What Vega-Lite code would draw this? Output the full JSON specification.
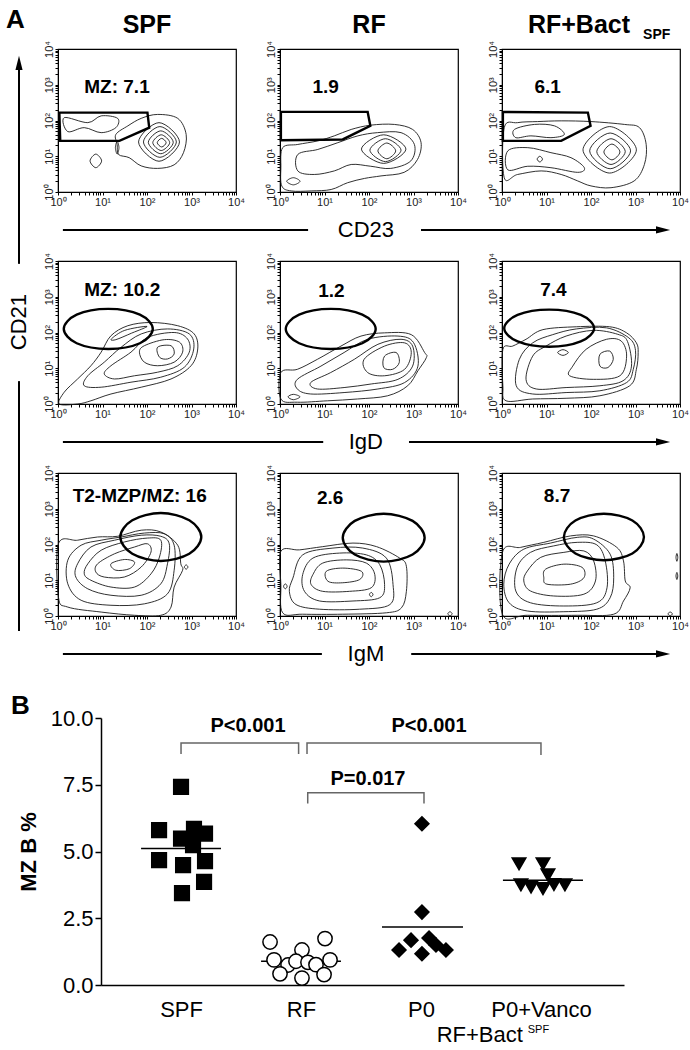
{
"$schema":"https://vega.github.io/schema/vega-lite/v6.json",
"background":"white",
"padding":{"left":5,"top":6,"right":0,"bottom":0},
"spacing":26,
"config":{
 "font":"Liberation Sans",
 "view":{"stroke":"#000","strokeWidth":1.2},
 "axis":{"grid":false,"domainColor":"#000","tickColor":"#000","labelColor":"#222","labelFont":"Liberation Sans","labelFontSize":11,"tickSize":3,"labelPadding":1,"domainWidth":1,"tickWidth":1},
 "headerFacet":{"labelExpr":"''","labelFontSize":0.1,"labelColor":"transparent","labelPadding":0},
 "text":{"font":"Liberation Sans","color":"#000"}
},
"datasets":{
"a":[
{"p":11,"g":1,"x":2.43,"y":1.38},{"p":11,"g":1,"x":2.33,"y":1.5},{"p":11,"g":1,"x":2.23,"y":1.38},{"p":11,"g":1,"x":2.33,"y":1.26},
{"p":11,"g":2,"x":2.51,"y":1.38},{"p":11,"g":2,"x":2.32,"y":1.6},{"p":11,"g":2,"x":2.13,"y":1.38},{"p":11,"g":2,"x":2.32,"y":1.16},
{"p":11,"g":3,"x":2.59,"y":1.39},{"p":11,"g":3,"x":2.31,"y":1.71},{"p":11,"g":3,"x":2.03,"y":1.39},{"p":11,"g":3,"x":2.31,"y":1.07},
{"p":11,"g":4,"x":2.66,"y":1.4},{"p":11,"g":4,"x":2.29,"y":1.83},{"p":11,"g":4,"x":1.92,"y":1.4},{"p":11,"g":4,"x":2.29,"y":0.97},
{"p":11,"g":5,"x":2.73,"y":1.4},{"p":11,"g":5,"x":2.27,"y":1.94},{"p":11,"g":5,"x":1.81,"y":1.4},{"p":11,"g":5,"x":2.27,"y":0.86},
{"p":11,"g":6,"x":1.3,"y":1.61},{"p":11,"g":6,"x":1.57,"y":1.85},{"p":11,"g":6,"x":1.87,"y":2.06},{"p":11,"g":6,"x":2.24,"y":2.17},{"p":11,"g":6,"x":2.69,"y":2.06},{"p":11,"g":6,"x":2.88,"y":1.61},{"p":11,"g":6,"x":2.82,"y":1.1},{"p":11,"g":6,"x":2.61,"y":0.76},{"p":11,"g":6,"x":2.24,"y":0.66},{"p":11,"g":6,"x":1.87,"y":0.73},{"p":11,"g":6,"x":1.6,"y":0.96},{"p":11,"g":6,"x":1.36,"y":1.05},{"p":11,"g":6,"x":1.33,"y":1.33},
{"p":11,"g":7,"x":0.14,"y":2.08},{"p":11,"g":7,"x":0.67,"y":1.94},{"p":11,"g":7,"x":0.97,"y":2.13},{"p":11,"g":7,"x":1.34,"y":2.06},{"p":11,"g":7,"x":1.3,"y":1.8},{"p":11,"g":7,"x":0.97,"y":1.66},{"p":11,"g":7,"x":0.59,"y":1.8},{"p":11,"g":7,"x":0.22,"y":1.69},
{"p":11,"g":8,"x":0.98,"y":0.87},{"p":11,"g":8,"x":0.85,"y":1.06},{"p":11,"g":8,"x":0.72,"y":0.87},{"p":11,"g":8,"x":0.85,"y":0.68},
{"p":11,"g":9,"x":1.37,"y":1.24},{"p":11,"g":9,"x":1.33,"y":1.42},{"p":11,"g":9,"x":1.29,"y":1.24},{"p":11,"g":9,"x":1.33,"y":1.06},
{"p":11,"g":90,"x":0.03,"y":2.22},{"p":11,"g":90,"x":2.01,"y":2.22},{"p":11,"g":90,"x":2.05,"y":1.8},{"p":11,"g":90,"x":1.38,"y":1.43},{"p":11,"g":90,"x":0.05,"y":1.43},
{"p":11,"g":92,"x":0.11,"y":-1.06},{"p":11,"g":92,"x":5.62,"y":-1.06},
{"p":11,"k":"m","t":"MZ: 7.1","x":0.59,"y":2.78},
{"p":11,"k":"T","t":"SPF","x":2,"y":4.45},
{"p":11,"k":"A","t":"A","x":-1.17,"y":4.59},

{"p":12,"g":1,"x":2.6,"y":1.15},{"p":12,"g":1,"x":2.4,"y":1.37},{"p":12,"g":1,"x":2.2,"y":1.15},{"p":12,"g":1,"x":2.4,"y":0.93},
{"p":12,"g":2,"x":2.72,"y":1.17},{"p":12,"g":2,"x":2.37,"y":1.49},{"p":12,"g":2,"x":2.02,"y":1.17},{"p":12,"g":2,"x":2.37,"y":0.85},
{"p":12,"g":3,"x":2.83,"y":1.2},{"p":12,"g":3,"x":2.33,"y":1.6},{"p":12,"g":3,"x":1.83,"y":1.2},{"p":12,"g":3,"x":2.33,"y":0.8},
{"p":12,"g":4,"x":0.4,"y":1.05},{"p":12,"g":4,"x":0.85,"y":1.19},{"p":12,"g":4,"x":1.3,"y":1.38},{"p":12,"g":4,"x":1.75,"y":1.57},{"p":12,"g":4,"x":2.19,"y":1.66},{"p":12,"g":4,"x":2.72,"y":1.66},{"p":12,"g":4,"x":3.02,"y":1.33},{"p":12,"g":4,"x":2.94,"y":0.87},{"p":12,"g":4,"x":2.49,"y":0.66},{"p":12,"g":4,"x":2.04,"y":0.72},{"p":12,"g":4,"x":1.6,"y":0.77},{"p":12,"g":4,"x":1.22,"y":0.59},{"p":12,"g":4,"x":0.77,"y":0.49},{"p":12,"g":4,"x":0.4,"y":0.59},
{"p":12,"g":5,"x":0.06,"y":1.24},{"p":12,"g":5,"x":0.4,"y":1.33},{"p":12,"g":5,"x":0.85,"y":1.43},{"p":12,"g":5,"x":1.22,"y":1.57},{"p":12,"g":5,"x":1.6,"y":1.75},{"p":12,"g":5,"x":2.04,"y":1.87},{"p":12,"g":5,"x":2.57,"y":1.89},{"p":12,"g":5,"x":2.98,"y":1.75},{"p":12,"g":5,"x":3.17,"y":1.38},{"p":12,"g":5,"x":3.09,"y":0.91},{"p":12,"g":5,"x":2.79,"y":0.55},{"p":12,"g":5,"x":2.27,"y":0.45},{"p":12,"g":5,"x":1.9,"y":0.38},{"p":12,"g":5,"x":1.52,"y":0.26},{"p":12,"g":5,"x":1.15,"y":0.07},{"p":12,"g":5,"x":0.7,"y":0.03},{"p":12,"g":5,"x":0.25,"y":0.03},{"p":12,"g":5,"x":0.04,"y":0.17},{"p":12,"g":5,"x":0.02,"y":0.68},
{"p":12,"g":6,"x":0.45,"y":0.3},{"p":12,"g":6,"x":0.3,"y":0.4},{"p":12,"g":6,"x":0.15,"y":0.3},{"p":12,"g":6,"x":0.3,"y":0.2},
{"p":12,"g":90,"x":0.02,"y":2.24},{"p":12,"g":90,"x":1.97,"y":2.24},{"p":12,"g":90,"x":2.03,"y":1.85},{"p":12,"g":90,"x":1.41,"y":1.47},{"p":12,"g":90,"x":0.02,"y":1.45},
{"p":12,"k":"m","t":"1.9","x":0.73,"y":2.78},
{"p":12,"k":"T","t":"RF","x":2,"y":4.45},
{"p":12,"k":"ax","t":"CD23","x":1.93,"y":-1.06},

{"p":13,"g":1,"x":2.65,"y":1.12},{"p":13,"g":1,"x":2.47,"y":1.34},{"p":13,"g":1,"x":2.29,"y":1.12},{"p":13,"g":1,"x":2.47,"y":0.9},
{"p":13,"g":2,"x":2.77,"y":1.13},{"p":13,"g":2,"x":2.45,"y":1.49},{"p":13,"g":2,"x":2.13,"y":1.13},{"p":13,"g":2,"x":2.45,"y":0.77},
{"p":13,"g":3,"x":2.89,"y":1.15},{"p":13,"g":3,"x":2.43,"y":1.65},{"p":13,"g":3,"x":1.97,"y":1.15},{"p":13,"g":3,"x":2.43,"y":0.65},
{"p":13,"g":4,"x":3.02,"y":1.18},{"p":13,"g":4,"x":2.42,"y":1.83},{"p":13,"g":4,"x":1.82,"y":1.18},{"p":13,"g":4,"x":2.42,"y":0.53},
{"p":13,"g":5,"x":0.05,"y":1.8},{"p":13,"g":5,"x":0.35,"y":1.94},{"p":13,"g":5,"x":0.8,"y":1.97},{"p":13,"g":5,"x":1.33,"y":1.99},{"p":13,"g":5,"x":2,"y":1.97},{"p":13,"g":5,"x":2.75,"y":1.89},{"p":13,"g":5,"x":3.09,"y":1.8},{"p":13,"g":5,"x":3.24,"y":1.33},{"p":13,"g":5,"x":3.2,"y":0.77},{"p":13,"g":5,"x":2.97,"y":0.31},{"p":13,"g":5,"x":2.45,"y":0.12},{"p":13,"g":5,"x":2,"y":0.17},{"p":13,"g":5,"x":1.7,"y":0.31},{"p":13,"g":5,"x":1.33,"y":0.49},{"p":13,"g":5,"x":0.88,"y":0.59},{"p":13,"g":5,"x":0.35,"y":0.49},{"p":13,"g":5,"x":0.05,"y":0.4},
{"p":13,"g":6,"x":0.28,"y":1.75},{"p":13,"g":6,"x":0.73,"y":1.89},{"p":13,"g":6,"x":1.18,"y":1.85},{"p":13,"g":6,"x":1.4,"y":1.61},{"p":13,"g":6,"x":1.1,"y":1.52},{"p":13,"g":6,"x":0.65,"y":1.57},{"p":13,"g":6,"x":0.31,"y":1.52},
{"p":13,"g":7,"x":0.13,"y":1.15},{"p":13,"g":7,"x":0.58,"y":1.24},{"p":13,"g":7,"x":1.1,"y":1.1},{"p":13,"g":7,"x":1.55,"y":0.96},{"p":13,"g":7,"x":1.85,"y":0.68},{"p":13,"g":7,"x":1.7,"y":0.55},{"p":13,"g":7,"x":1.1,"y":0.68},{"p":13,"g":7,"x":0.58,"y":0.72},{"p":13,"g":7,"x":0.13,"y":0.62},
{"p":13,"g":8,"x":0.91,"y":0.92},{"p":13,"g":8,"x":0.85,"y":1.0},{"p":13,"g":8,"x":0.79,"y":0.92},{"p":13,"g":8,"x":0.85,"y":0.84},
{"p":13,"g":90,"x":0.02,"y":2.24},{"p":13,"g":90,"x":1.93,"y":2.22},{"p":13,"g":90,"x":1.99,"y":1.85},{"p":13,"g":90,"x":1.33,"y":1.43},{"p":13,"g":90,"x":0.02,"y":1.43},
{"p":13,"g":93,"x":-1.82,"y":-1.06},{"p":13,"g":93,"x":3.62,"y":-1.06},
{"p":13,"k":"m","t":"6.1","x":0.73,"y":2.78},
{"p":13,"k":"T","t":"RF+Bact","x":1.73,"y":4.45},
{"p":13,"k":"s","t":"SPF","x":3.17,"y":4.28},
{"p":13,"k":"hr","x":3.62,"y":-1.06},

{"p":21,"g":1,"x":2.24,"y":1.59},{"p":21,"g":1,"x":2.54,"y":1.63},{"p":21,"g":1,"x":2.61,"y":1.4},{"p":21,"g":1,"x":2.46,"y":1.26},{"p":21,"g":1,"x":2.28,"y":1.31},
{"p":21,"g":2,"x":1.94,"y":1.63},{"p":21,"g":2,"x":2.39,"y":1.8},{"p":21,"g":2,"x":2.73,"y":1.73},{"p":21,"g":2,"x":2.8,"y":1.45},{"p":21,"g":2,"x":2.61,"y":1.17},{"p":21,"g":2,"x":2.24,"y":1.07},{"p":21,"g":2,"x":1.94,"y":1.17},{"p":21,"g":2,"x":1.83,"y":1.45},
{"p":21,"g":3,"x":1.64,"y":1.45},{"p":21,"g":3,"x":2.01,"y":1.86},{"p":21,"g":3,"x":2.61,"y":2.0},{"p":21,"g":3,"x":2.91,"y":1.82},{"p":21,"g":3,"x":2.95,"y":1.45},{"p":21,"g":3,"x":2.69,"y":1.07},{"p":21,"g":3,"x":2.24,"y":0.89},{"p":21,"g":3,"x":1.72,"y":0.79},{"p":21,"g":3,"x":1.27,"y":0.7},{"p":21,"g":3,"x":1.04,"y":0.84},{"p":21,"g":3,"x":1.19,"y":1.07},
{"p":21,"g":4,"x":1.42,"y":1.59},{"p":21,"g":4,"x":1.87,"y":1.96},{"p":21,"g":4,"x":2.46,"y":2.1},{"p":21,"g":4,"x":2.95,"y":1.96},{"p":21,"g":4,"x":3.05,"y":1.54},{"p":21,"g":4,"x":2.84,"y":1.03},{"p":21,"g":4,"x":2.31,"y":0.75},{"p":21,"g":4,"x":1.64,"y":0.61},{"p":21,"g":4,"x":0.97,"y":0.47},{"p":21,"g":4,"x":0.59,"y":0.51},{"p":21,"g":4,"x":0.67,"y":0.79},{"p":21,"g":4,"x":1.04,"y":1.17},
{"p":21,"g":5,"x":1.2,"y":1.82},{"p":21,"g":5,"x":1.5,"y":2.06},{"p":21,"g":5,"x":2.0,"y":2.17},{"p":21,"g":5,"x":1.65,"y":1.98},{"p":21,"g":5,"x":1.3,"y":1.8},
{"p":21,"g":6,"x":0.03,"y":0},{"p":21,"g":6,"x":0.14,"y":0.33},{"p":21,"g":6,"x":0.44,"y":0.7},{"p":21,"g":6,"x":0.74,"y":1.07},{"p":21,"g":6,"x":0.97,"y":1.45},{"p":21,"g":6,"x":1.19,"y":1.91},{"p":21,"g":6,"x":1.57,"y":2.19},{"p":21,"g":6,"x":2.09,"y":2.28},{"p":21,"g":6,"x":2.69,"y":2.19},{"p":21,"g":6,"x":3.06,"y":1.96},{"p":21,"g":6,"x":3.14,"y":1.54},{"p":21,"g":6,"x":2.99,"y":1.07},{"p":21,"g":6,"x":2.54,"y":0.7},{"p":21,"g":6,"x":1.87,"y":0.47},{"p":21,"g":6,"x":1.19,"y":0.28},{"p":21,"g":6,"x":0.74,"y":0.09},{"p":21,"g":6,"x":0.44,"y":0},
{"p":21,"g":91,"x":2.13,"y":2.1},{"p":21,"g":91,"x":1.84,"y":2.5},{"p":21,"g":91,"x":1.13,"y":2.66},{"p":21,"g":91,"x":0.42,"y":2.5},{"p":21,"g":91,"x":0.13,"y":2.1},{"p":21,"g":91,"x":0.42,"y":1.7},{"p":21,"g":91,"x":1.13,"y":1.54},{"p":21,"g":91,"x":1.84,"y":1.7},
{"p":21,"g":92,"x":0.11,"y":-1.06},{"p":21,"g":92,"x":5.96,"y":-1.06},
{"p":21,"g":94,"x":-0.876,"y":-6.35},{"p":21,"g":94,"x":-0.876,"y":0.64},
{"p":21,"g":95,"x":-0.876,"y":3.92},{"p":21,"g":95,"x":-0.876,"y":9.54},
{"p":21,"k":"m","t":"MZ: 10.2","x":0.59,"y":3.03},
{"p":21,"k":"av","t":"CD21","x":-0.876,"y":2.29},
{"p":21,"k":"hu","x":-0.876,"y":9.54},

{"p":22,"g":1,"x":2.35,"y":1.34},{"p":22,"g":1,"x":2.61,"y":1.44},{"p":22,"g":1,"x":2.68,"y":1.16},{"p":22,"g":1,"x":2.53,"y":0.97},{"p":22,"g":1,"x":2.33,"y":1.02},
{"p":22,"g":2,"x":1.89,"y":1.25},{"p":22,"g":2,"x":2.35,"y":1.62},{"p":22,"g":2,"x":2.8,"y":1.71},{"p":22,"g":2,"x":2.95,"y":1.44},{"p":22,"g":2,"x":2.8,"y":0.97},{"p":22,"g":2,"x":2.35,"y":0.79},{"p":22,"g":2,"x":1.97,"y":0.88},
{"p":22,"g":3,"x":0.69,"y":0.6},{"p":22,"g":3,"x":1.14,"y":0.88},{"p":22,"g":3,"x":1.67,"y":1.25},{"p":22,"g":3,"x":2.2,"y":1.67},{"p":22,"g":3,"x":2.72,"y":1.81},{"p":22,"g":3,"x":2.98,"y":1.62},{"p":22,"g":3,"x":2.98,"y":1.06},{"p":22,"g":3,"x":2.65,"y":0.69},{"p":22,"g":3,"x":2.05,"y":0.56},{"p":22,"g":3,"x":1.44,"y":0.46},{"p":22,"g":3,"x":0.84,"y":0.42},
{"p":22,"g":4,"x":0.39,"y":0.69},{"p":22,"g":4,"x":0.92,"y":1.06},{"p":22,"g":4,"x":1.44,"y":1.44},{"p":22,"g":4,"x":1.97,"y":1.81},{"p":22,"g":4,"x":2.65,"y":1.9},{"p":22,"g":4,"x":3.0,"y":1.72},{"p":22,"g":4,"x":3.1,"y":1.06},{"p":22,"g":4,"x":2.8,"y":0.6},{"p":22,"g":4,"x":2.2,"y":0.42},{"p":22,"g":4,"x":1.44,"y":0.32},{"p":22,"g":4,"x":0.69,"y":0.28},{"p":22,"g":4,"x":0.39,"y":0.42},
{"p":22,"g":5,"x":0.02,"y":0.88},{"p":22,"g":5,"x":0.39,"y":0.97},{"p":22,"g":5,"x":0.84,"y":1.25},{"p":22,"g":5,"x":1.37,"y":1.62},{"p":22,"g":5,"x":1.82,"y":1.9},{"p":22,"g":5,"x":2.35,"y":1.99},{"p":22,"g":5,"x":2.95,"y":1.94},{"p":22,"g":5,"x":3.25,"y":1.44},{"p":22,"g":5,"x":3.29,"y":1.3},{"p":22,"g":5,"x":3.1,"y":0.93},{"p":22,"g":5,"x":2.87,"y":0.51},{"p":22,"g":5,"x":2.42,"y":0.23},{"p":22,"g":5,"x":1.74,"y":0.14},{"p":22,"g":5,"x":1.07,"y":0.09},{"p":22,"g":5,"x":0.39,"y":0.05},{"p":22,"g":5,"x":0.02,"y":0.14},
{"p":22,"g":6,"x":0.45,"y":0.2},{"p":22,"g":6,"x":0.3,"y":0.27},{"p":22,"g":6,"x":0.18,"y":0.2},{"p":22,"g":6,"x":0.3,"y":0.12},
{"p":22,"g":91,"x":2.15,"y":2.1},{"p":22,"g":91,"x":1.85,"y":2.5},{"p":22,"g":91,"x":1.14,"y":2.66},{"p":22,"g":91,"x":0.43,"y":2.5},{"p":22,"g":91,"x":0.13,"y":2.1},{"p":22,"g":91,"x":0.43,"y":1.7},{"p":22,"g":91,"x":1.14,"y":1.54},{"p":22,"g":91,"x":1.85,"y":1.7},
{"p":22,"k":"m","t":"1.2","x":0.86,"y":2.99},
{"p":22,"k":"ax","t":"IgD","x":1.93,"y":-1.06},

{"p":23,"g":1,"x":2.2,"y":1.39},{"p":23,"g":1,"x":2.42,"y":1.48},{"p":23,"g":1,"x":2.5,"y":1.25},{"p":23,"g":1,"x":2.38,"y":1.02},{"p":23,"g":1,"x":2.2,"y":1.06},
{"p":23,"g":2,"x":1.59,"y":1.06},{"p":23,"g":2,"x":1.89,"y":1.53},{"p":23,"g":2,"x":2.35,"y":1.81},{"p":23,"g":2,"x":2.68,"y":1.76},{"p":23,"g":2,"x":2.8,"y":1.34},{"p":23,"g":2,"x":2.65,"y":0.79},{"p":23,"g":2,"x":2.05,"y":0.69},{"p":23,"g":2,"x":1.52,"y":0.79},
{"p":23,"g":3,"x":0.69,"y":1.34},{"p":23,"g":3,"x":0.99,"y":1.62},{"p":23,"g":3,"x":1.44,"y":1.9},{"p":23,"g":3,"x":2.05,"y":2.06},{"p":23,"g":3,"x":2.6,"y":1.95},{"p":23,"g":3,"x":2.82,"y":1.75},{"p":23,"g":3,"x":2.91,"y":1.06},{"p":23,"g":3,"x":2.72,"y":0.65},{"p":23,"g":3,"x":2.2,"y":0.51},{"p":23,"g":3,"x":1.44,"y":0.46},{"p":23,"g":3,"x":0.77,"y":0.42},{"p":23,"g":3,"x":0.54,"y":0.69},
{"p":23,"g":4,"x":0.39,"y":1.25},{"p":23,"g":4,"x":0.69,"y":1.71},{"p":23,"g":4,"x":1.14,"y":1.94},{"p":23,"g":4,"x":1.67,"y":2.1},{"p":23,"g":4,"x":2.35,"y":2.13},{"p":23,"g":4,"x":2.85,"y":1.85},{"p":23,"g":4,"x":3.0,"y":1.5},{"p":23,"g":4,"x":2.95,"y":0.97},{"p":23,"g":4,"x":2.8,"y":0.6},{"p":23,"g":4,"x":2.2,"y":0.37},{"p":23,"g":4,"x":1.44,"y":0.32},{"p":23,"g":4,"x":0.69,"y":0.28},{"p":23,"g":4,"x":0.32,"y":0.51},
{"p":23,"g":5,"x":0.02,"y":1.53},{"p":23,"g":5,"x":0.24,"y":1.62},{"p":23,"g":5,"x":0.54,"y":1.81},{"p":23,"g":5,"x":0.92,"y":2.08},{"p":23,"g":5,"x":1.67,"y":2.16},{"p":23,"g":5,"x":2.42,"y":2.16},{"p":23,"g":5,"x":2.8,"y":1.99},{"p":23,"g":5,"x":3.02,"y":1.71},{"p":23,"g":5,"x":3.06,"y":1.44},{"p":23,"g":5,"x":3.02,"y":0.97},{"p":23,"g":5,"x":2.87,"y":0.51},{"p":23,"g":5,"x":2.2,"y":0.23},{"p":23,"g":5,"x":1.44,"y":0.16},{"p":23,"g":5,"x":0.69,"y":0.14},{"p":23,"g":5,"x":0.09,"y":0.09},{"p":23,"g":5,"x":0.02,"y":0.51},
{"p":23,"g":6,"x":1.49,"y":1.44},{"p":23,"g":6,"x":1.37,"y":1.52},{"p":23,"g":6,"x":1.25,"y":1.44},{"p":23,"g":6,"x":1.37,"y":1.36},
{"p":23,"g":91,"x":2.07,"y":2.12},{"p":23,"g":91,"x":1.77,"y":2.49},{"p":23,"g":91,"x":1.06,"y":2.64},{"p":23,"g":91,"x":0.35,"y":2.49},{"p":23,"g":91,"x":0.05,"y":2.12},{"p":23,"g":91,"x":0.35,"y":1.75},{"p":23,"g":91,"x":1.06,"y":1.6},{"p":23,"g":91,"x":1.77,"y":1.75},
{"p":23,"g":93,"x":-2.09,"y":-1.06},{"p":23,"g":93,"x":3.62,"y":-1.06},
{"p":23,"k":"m","t":"7.4","x":0.86,"y":3.03},
{"p":23,"k":"hr","x":3.62,"y":-1.06},

{"p":31,"g":1,"x":1.19,"y":1.46},{"p":31,"g":1,"x":1.49,"y":1.58},{"p":31,"g":1,"x":1.72,"y":1.51},{"p":31,"g":1,"x":1.6,"y":1.32},{"p":31,"g":1,"x":1.3,"y":1.28},
{"p":31,"g":2,"x":0.89,"y":1.46},{"p":31,"g":2,"x":1.27,"y":1.74},{"p":31,"g":2,"x":1.72,"y":1.93},{"p":31,"g":2,"x":2.01,"y":2.02},{"p":31,"g":2,"x":2.09,"y":1.79},{"p":31,"g":2,"x":1.87,"y":1.37},{"p":31,"g":2,"x":1.49,"y":1.09},{"p":31,"g":2,"x":1.04,"y":1.09},{"p":31,"g":2,"x":0.85,"y":1.23},
{"p":31,"g":3,"x":0.67,"y":1.46},{"p":31,"g":3,"x":0.97,"y":1.84},{"p":31,"g":3,"x":1.49,"y":2.07},{"p":31,"g":3,"x":2.01,"y":2.18},{"p":31,"g":3,"x":2.31,"y":2.12},{"p":31,"g":3,"x":2.28,"y":1.65},{"p":31,"g":3,"x":2.09,"y":1.18},{"p":31,"g":3,"x":1.72,"y":0.81},{"p":31,"g":3,"x":1.19,"y":0.81},{"p":31,"g":3,"x":0.74,"y":1.0},{"p":31,"g":3,"x":0.59,"y":1.18},
{"p":31,"g":4,"x":0.44,"y":1.46},{"p":31,"g":4,"x":0.74,"y":1.93},{"p":31,"g":4,"x":1.27,"y":2.12},{"p":31,"g":4,"x":1.87,"y":2.26},{"p":31,"g":4,"x":2.31,"y":2.23},{"p":31,"g":4,"x":2.5,"y":2.02},{"p":31,"g":4,"x":2.46,"y":1.46},{"p":31,"g":4,"x":2.31,"y":0.9},{"p":31,"g":4,"x":1.87,"y":0.58},{"p":31,"g":4,"x":1.19,"y":0.58},{"p":31,"g":4,"x":0.67,"y":0.76},{"p":31,"g":4,"x":0.4,"y":1.09},
{"p":31,"g":5,"x":0.22,"y":1.56},{"p":31,"g":5,"x":0.52,"y":1.98},{"p":31,"g":5,"x":0.97,"y":2.12},{"p":31,"g":5,"x":1.42,"y":2.21},{"p":31,"g":5,"x":1.94,"y":2.32},{"p":31,"g":5,"x":2.39,"y":2.3},{"p":31,"g":5,"x":2.61,"y":1.98},{"p":31,"g":5,"x":2.61,"y":1.28},{"p":31,"g":5,"x":2.46,"y":0.62},{"p":31,"g":5,"x":1.94,"y":0.34},{"p":31,"g":5,"x":1.19,"y":0.3},{"p":31,"g":5,"x":0.52,"y":0.44},{"p":31,"g":5,"x":0.22,"y":0.9},
{"p":31,"g":6,"x":0.01,"y":2.02},{"p":31,"g":6,"x":0.44,"y":2.12},{"p":31,"g":6,"x":0.89,"y":2.21},{"p":31,"g":6,"x":1.34,"y":2.23},{"p":31,"g":6,"x":1.87,"y":2.4},{"p":31,"g":6,"x":2.31,"y":2.35},{"p":31,"g":6,"x":2.69,"y":1.98},{"p":31,"g":6,"x":2.76,"y":1.46},{"p":31,"g":6,"x":2.8,"y":1.28},{"p":31,"g":6,"x":2.61,"y":0.81},{"p":31,"g":6,"x":2.54,"y":0.25},{"p":31,"g":6,"x":2.31,"y":0.02},{"p":31,"g":6,"x":1.72,"y":0.02},{"p":31,"g":6,"x":0.97,"y":0.11},{"p":31,"g":6,"x":0.22,"y":0.25},{"p":31,"g":6,"x":0.01,"y":0.53},
{"p":31,"g":8,"x":2.92,"y":1.37},{"p":31,"g":8,"x":2.88,"y":1.43},{"p":31,"g":8,"x":2.84,"y":1.37},{"p":31,"g":8,"x":2.88,"y":1.31},
{"p":31,"g":91,"x":3.22,"y":2.21},{"p":31,"g":91,"x":2.95,"y":2.68},{"p":31,"g":91,"x":2.31,"y":2.88},{"p":31,"g":91,"x":1.67,"y":2.68},{"p":31,"g":91,"x":1.4,"y":2.21},{"p":31,"g":91,"x":1.67,"y":1.74},{"p":31,"g":91,"x":2.31,"y":1.54},{"p":31,"g":91,"x":2.95,"y":1.74},
{"p":31,"g":92,"x":0.11,"y":-1.06},{"p":31,"g":92,"x":5.93,"y":-1.06},
{"p":31,"k":"m","t":"T2-MZP/MZ: 16","x":0.33,"y":3.19},

{"p":32,"g":1,"x":1.04,"y":1.25},{"p":32,"g":1,"x":1.41,"y":1.34},{"p":32,"g":1,"x":1.83,"y":1.25},{"p":32,"g":1,"x":1.79,"y":1.02},{"p":32,"g":1,"x":1.41,"y":0.93},{"p":32,"g":1,"x":1.08,"y":0.97},
{"p":32,"g":2,"x":0.74,"y":1.16},{"p":32,"g":2,"x":0.96,"y":1.48},{"p":32,"g":2,"x":1.49,"y":1.57},{"p":32,"g":2,"x":1.94,"y":1.48},{"p":32,"g":2,"x":2.13,"y":1.16},{"p":32,"g":2,"x":2.05,"y":0.79},{"p":32,"g":2,"x":1.56,"y":0.69},{"p":32,"g":2,"x":0.96,"y":0.69},{"p":32,"g":2,"x":0.7,"y":0.88},
{"p":32,"g":3,"x":0.51,"y":1.16},{"p":32,"g":3,"x":0.74,"y":1.62},{"p":32,"g":3,"x":1.34,"y":1.76},{"p":32,"g":3,"x":1.94,"y":1.71},{"p":32,"g":3,"x":2.24,"y":1.44},{"p":32,"g":3,"x":2.35,"y":0.88},{"p":32,"g":3,"x":2.24,"y":0.51},{"p":32,"g":3,"x":1.64,"y":0.42},{"p":32,"g":3,"x":0.89,"y":0.42},{"p":32,"g":3,"x":0.55,"y":0.69},
{"p":32,"g":4,"x":0.29,"y":1.06},{"p":32,"g":4,"x":0.51,"y":1.71},{"p":32,"g":4,"x":1.19,"y":1.9},{"p":32,"g":4,"x":1.86,"y":1.9},{"p":32,"g":4,"x":2.39,"y":1.62},{"p":32,"g":4,"x":2.54,"y":0.88},{"p":32,"g":4,"x":2.47,"y":0.32},{"p":32,"g":4,"x":1.79,"y":0.19},{"p":32,"g":4,"x":0.89,"y":0.19},{"p":32,"g":4,"x":0.36,"y":0.32},{"p":32,"g":4,"x":0.21,"y":0.69},
{"p":32,"g":5,"x":0.02,"y":1.81},{"p":32,"g":5,"x":0.44,"y":1.85},{"p":32,"g":5,"x":0.96,"y":1.94},{"p":32,"g":5,"x":1.64,"y":2.04},{"p":32,"g":5,"x":2.17,"y":1.94},{"p":32,"g":5,"x":2.69,"y":1.62},{"p":32,"g":5,"x":2.84,"y":1.39},{"p":32,"g":5,"x":2.84,"y":0.69},{"p":32,"g":5,"x":2.73,"y":0.23},{"p":32,"g":5,"x":2.39,"y":0.09},{"p":32,"g":5,"x":1.41,"y":0.05},{"p":32,"g":5,"x":0.51,"y":0.05},{"p":32,"g":5,"x":0.06,"y":0.09},{"p":32,"g":5,"x":0.02,"y":0.88},
{"p":32,"g":6,"x":0.16,"y":0.83},{"p":32,"g":6,"x":0.12,"y":0.9},{"p":32,"g":6,"x":0.08,"y":0.83},{"p":32,"g":6,"x":0.12,"y":0.76},
{"p":32,"g":7,"x":2.09,"y":0.6},{"p":32,"g":7,"x":2.05,"y":0.66},{"p":32,"g":7,"x":2.01,"y":0.6},{"p":32,"g":7,"x":2.05,"y":0.54},
{"p":32,"g":8,"x":3.87,"y":0.06},{"p":32,"g":8,"x":3.82,"y":0.12},{"p":32,"g":8,"x":3.77,"y":0.06},{"p":32,"g":8,"x":3.82,"y":0.01},
{"p":32,"g":91,"x":3.25,"y":2.19},{"p":32,"g":91,"x":2.98,"y":2.66},{"p":32,"g":91,"x":2.33,"y":2.86},{"p":32,"g":91,"x":1.68,"y":2.66},{"p":32,"g":91,"x":1.41,"y":2.19},{"p":32,"g":91,"x":1.68,"y":1.72},{"p":32,"g":91,"x":2.33,"y":1.52},{"p":32,"g":91,"x":2.98,"y":1.72},
{"p":32,"k":"m","t":"2.6","x":0.83,"y":3.12},
{"p":32,"k":"ax","t":"IgM","x":1.93,"y":-1.06},

{"p":33,"g":1,"x":0.98,"y":1.31},{"p":33,"g":1,"x":1.39,"y":1.45},{"p":33,"g":1,"x":1.8,"y":1.36},{"p":33,"g":1,"x":1.84,"y":1.07},{"p":33,"g":1,"x":1.54,"y":0.89},{"p":33,"g":1,"x":1.01,"y":0.89},{"p":33,"g":1,"x":0.94,"y":1.07},
{"p":33,"g":2,"x":0.57,"y":1.26},{"p":33,"g":2,"x":0.87,"y":1.64},{"p":33,"g":2,"x":1.39,"y":1.78},{"p":33,"g":2,"x":1.84,"y":1.82},{"p":33,"g":2,"x":2.06,"y":1.54},{"p":33,"g":2,"x":2.1,"y":0.98},{"p":33,"g":2,"x":1.84,"y":0.61},{"p":33,"g":2,"x":1.16,"y":0.56},{"p":33,"g":2,"x":0.64,"y":0.7},{"p":33,"g":2,"x":0.49,"y":0.98},
{"p":33,"g":3,"x":0.34,"y":1.36},{"p":33,"g":3,"x":0.64,"y":1.78},{"p":33,"g":3,"x":1.16,"y":1.96},{"p":33,"g":3,"x":1.69,"y":2.06},{"p":33,"g":3,"x":2.13,"y":1.99},{"p":33,"g":3,"x":2.32,"y":1.54},{"p":33,"g":3,"x":2.36,"y":0.79},{"p":33,"g":3,"x":2.13,"y":0.37},{"p":33,"g":3,"x":1.39,"y":0.28},{"p":33,"g":3,"x":0.64,"y":0.37},{"p":33,"g":3,"x":0.31,"y":0.7},
{"p":33,"g":4,"x":0.16,"y":1.45},{"p":33,"g":4,"x":0.49,"y":1.87},{"p":33,"g":4,"x":1.09,"y":2.04},{"p":33,"g":4,"x":1.69,"y":2.2},{"p":33,"g":4,"x":2.06,"y":2.15},{"p":33,"g":4,"x":2.43,"y":1.73},{"p":33,"g":4,"x":2.51,"y":1.07},{"p":33,"g":4,"x":2.43,"y":0.51},{"p":33,"g":4,"x":2.13,"y":0.19},{"p":33,"g":4,"x":1.39,"y":0.12},{"p":33,"g":4,"x":0.57,"y":0.14},{"p":33,"g":4,"x":0.16,"y":0.37},{"p":33,"g":4,"x":0.04,"y":0.89},
{"p":33,"g":5,"x":0.01,"y":1.78},{"p":33,"g":5,"x":0.42,"y":1.92},{"p":33,"g":5,"x":0.94,"y":2.06},{"p":33,"g":5,"x":1.54,"y":2.24},{"p":33,"g":5,"x":2.06,"y":2.24},{"p":33,"g":5,"x":2.58,"y":1.92},{"p":33,"g":5,"x":2.73,"y":1.54},{"p":33,"g":5,"x":2.77,"y":0.98},{"p":33,"g":5,"x":2.88,"y":0.79},{"p":33,"g":5,"x":2.73,"y":0.42},{"p":33,"g":5,"x":2.51,"y":0.05},{"p":33,"g":5,"x":1.69,"y":0.02},{"p":33,"g":5,"x":0.57,"y":0.02},{"p":33,"g":5,"x":0.01,"y":0.05},
{"p":33,"g":6,"x":3.95,"y":1.64},{"p":33,"g":6,"x":3.93,"y":1.75},{"p":33,"g":6,"x":3.91,"y":1.64},{"p":33,"g":6,"x":3.93,"y":1.53},
{"p":33,"g":7,"x":3.95,"y":1.12},{"p":33,"g":7,"x":3.93,"y":1.22},{"p":33,"g":7,"x":3.91,"y":1.12},{"p":33,"g":7,"x":3.93,"y":1.02},
{"p":33,"g":8,"x":3.83,"y":0.06},{"p":33,"g":8,"x":3.78,"y":0.11},{"p":33,"g":8,"x":3.73,"y":0.06},{"p":33,"g":8,"x":3.78,"y":0.01},
{"p":33,"g":91,"x":3.19,"y":2.21},{"p":33,"g":91,"x":2.93,"y":2.67},{"p":33,"g":91,"x":2.29,"y":2.86},{"p":33,"g":91,"x":1.65,"y":2.67},{"p":33,"g":91,"x":1.39,"y":2.21},{"p":33,"g":91,"x":1.65,"y":1.75},{"p":33,"g":91,"x":2.29,"y":1.56},{"p":33,"g":91,"x":2.93,"y":1.75},
{"p":33,"g":93,"x":-2.04,"y":-1.06},{"p":33,"g":93,"x":3.62,"y":-1.06},
{"p":33,"k":"m","t":"8.7","x":0.94,"y":3.18},
{"p":33,"k":"hr","x":3.62,"y":-1.06}
],
"b":[
{"k":"br","g":1,"x":1.0,"y":8.65},{"k":"br","g":1,"x":1.0,"y":9.06},{"k":"br","g":1,"x":1.98,"y":9.06},{"k":"br","g":1,"x":1.98,"y":8.65},
{"k":"br","g":2,"x":2.05,"y":8.65},{"k":"br","g":2,"x":2.05,"y":9.06},{"k":"br","g":2,"x":4.0,"y":9.06},{"k":"br","g":2,"x":4.0,"y":8.61},
{"k":"br","g":3,"x":2.056,"y":6.8},{"k":"br","g":3,"x":2.056,"y":7.2},{"k":"br","g":3,"x":3.025,"y":7.2},{"k":"br","g":3,"x":3.025,"y":6.8},
{"k":"mn","x":0.667,"x2":1.333,"y":5.11},
{"k":"mn","x":1.667,"x2":2.333,"y":0.89},
{"k":"mn","x":2.675,"x2":3.35,"y":2.17},
{"k":"mn","x":3.683,"x2":4.35,"y":3.92},
{"k":"pt","grp":"SPF","x":1.0,"y":7.42},{"k":"pt","grp":"SPF","x":0.817,"y":5.8},{"k":"pt","grp":"SPF","x":1.108,"y":5.85},{"k":"pt","grp":"SPF","x":1.2,"y":5.67},{"k":"pt","grp":"SPF","x":1.0,"y":5.48},{"k":"pt","grp":"SPF","x":1.1,"y":5.24},{"k":"pt","grp":"SPF","x":0.817,"y":4.68},{"k":"pt","grp":"SPF","x":1.2,"y":4.64},{"k":"pt","grp":"SPF","x":1.017,"y":4.49},{"k":"pt","grp":"SPF","x":1.192,"y":3.86},{"k":"pt","grp":"SPF","x":1.008,"y":3.44},
{"k":"pt","grp":"RF","x":1.742,"y":1.61},{"k":"pt","grp":"RF","x":2.2,"y":1.74},{"k":"pt","grp":"RF","x":2.008,"y":1.31},{"k":"pt","grp":"RF","x":1.775,"y":0.94},{"k":"pt","grp":"RF","x":1.892,"y":0.75},{"k":"pt","grp":"RF","x":1.958,"y":0.89},{"k":"pt","grp":"RF","x":2.058,"y":0.85},{"k":"pt","grp":"RF","x":2.125,"y":0.76},{"k":"pt","grp":"RF","x":2.242,"y":0.94},{"k":"pt","grp":"RF","x":1.825,"y":0.42},{"k":"pt","grp":"RF","x":2.008,"y":0.26},{"k":"pt","grp":"RF","x":2.192,"y":0.39},
{"k":"pt","grp":"P0","x":3.008,"y":6.04},{"k":"pt","grp":"P0","x":3.008,"y":2.73},{"k":"pt","grp":"P0","x":2.917,"y":1.68},{"k":"pt","grp":"P0","x":3.067,"y":1.76},{"k":"pt","grp":"P0","x":2.817,"y":1.31},{"k":"pt","grp":"P0","x":3.125,"y":1.5},{"k":"pt","grp":"P0","x":3.208,"y":1.31},{"k":"pt","grp":"P0","x":3.008,"y":1.17},
{"k":"pt","grp":"V","x":3.817,"y":4.54},{"k":"pt","grp":"V","x":4.017,"y":4.54},{"k":"pt","grp":"V","x":4.058,"y":4.12},{"k":"pt","grp":"V","x":3.833,"y":3.75},{"k":"pt","grp":"V","x":3.917,"y":3.67},{"k":"pt","grp":"V","x":4.017,"y":3.61},{"k":"pt","grp":"V","x":4.108,"y":3.76},{"k":"pt","grp":"V","x":4.2,"y":3.75},
{"k":"p","t":"P<0.001","x":1.558,"y":9.48},
{"k":"p","t":"P<0.001","x":3.067,"y":9.48},
{"k":"p","t":"P=0.017","x":2.558,"y":7.49},
{"k":"tx","t":"RF+Bact","x":3.49,"y":-2.13},
{"k":"ts","t":"SPF","x":3.89,"y":-1.8},
{"k":"B","t":"B","x":-0.417,"y":10.15}
]
},
"vconcat":[
{
 "data":{"name":"a"},
 "facet":{"field":"p","type":"ordinal","title":null,"header":{"labelExpr":"''","labelFontSize":0.1,"labelColor":"transparent","labelPadding":0,"labels":false}},
 "columns":3,
 "spacing":{"row":69,"column":44},
 "bounds":"flush",
 "resolve":{"axis":{"x":"independent","y":"independent"}},
 "spec":{
  "width":178,"height":143,
  "encoding":{
   "x":{"field":"x","type":"quantitative","scale":{"domain":[0,4],"nice":false,"zero":false},
    "axis":{"title":null,"values":[0,0.301,0.477,0.602,0.699,0.778,0.845,0.903,0.954,1,1.301,1.477,1.602,1.699,1.778,1.845,1.903,1.954,2,2.301,2.477,2.602,2.699,2.778,2.845,2.903,2.954,3,3.301,3.477,3.602,3.699,3.778,3.845,3.903,3.954,4],
     "labelExpr":"datum.value===0?'10⁰':datum.value===1?'10¹':datum.value===2?'10²':datum.value===3?'10³':datum.value===4?'10⁴':''",
     "labelOverlap":false,"labelFlush":false,"labelBound":false}},
   "y":{"field":"y","type":"quantitative","scale":{"domain":[0,4],"nice":false,"zero":false},
    "axis":{"title":null,"values":[0,0.301,0.477,0.602,0.699,0.778,0.845,0.903,0.954,1,1.301,1.477,1.602,1.699,1.778,1.845,1.903,1.954,2,2.301,2.477,2.602,2.699,2.778,2.845,2.903,2.954,3,3.301,3.477,3.602,3.699,3.778,3.845,3.903,3.954,4],
     "labelExpr":"datum.value===0?'10⁰':datum.value===1?'10¹':datum.value===2?'10²':datum.value===3?'10³':datum.value===4?'10⁴':''",
     "labelAngle":270,"labelOverlap":false,"labelFlush":false,"labelBound":false}}
  },
  "layer":[
   {"transform":[{"filter":"datum.g < 90"}],"mark":{"type":"line","interpolate":"cardinal-closed","stroke":"#1a1a1a","strokeWidth":0.9},"encoding":{"detail":{"field":"g","type":"nominal"},"order":{"value":null}}},
   {"transform":[{"filter":"datum.g === 90"}],"mark":{"type":"line","interpolate":"linear-closed","stroke":"#000","strokeWidth":2.4},"encoding":{"detail":{"field":"g","type":"nominal"},"order":{"value":null}}},
   {"transform":[{"filter":"datum.g === 91"}],"mark":{"type":"line","interpolate":"cardinal-closed","stroke":"#000","strokeWidth":2.4},"encoding":{"detail":{"field":"g","type":"nominal"},"order":{"value":null}}},
   {"transform":[{"filter":"datum.g >= 92"}],"mark":{"type":"line","stroke":"#000","strokeWidth":2,"clip":false},"encoding":{"detail":{"field":"g","type":"nominal"},"order":{"value":null}}},
   {"transform":[{"filter":"datum.k === 'm'"}],"mark":{"type":"text","align":"left","baseline":"alphabetic","fontSize":19,"fontWeight":"bold"},"encoding":{"text":{"field":"t","type":"nominal"}}},
   {"transform":[{"filter":"datum.k === 'T'"}],"mark":{"type":"text","align":"center","baseline":"alphabetic","fontSize":25,"fontWeight":"bold"},"encoding":{"text":{"field":"t","type":"nominal"}}},
   {"transform":[{"filter":"datum.k === 's'"}],"mark":{"type":"text","align":"left","baseline":"alphabetic","fontSize":14,"fontWeight":"bold"},"encoding":{"text":{"field":"t","type":"nominal"}}},
   {"transform":[{"filter":"datum.k === 'A'"}],"mark":{"type":"text","align":"left","baseline":"alphabetic","fontSize":26,"fontWeight":"bold"},"encoding":{"text":{"field":"t","type":"nominal"}}},
   {"transform":[{"filter":"datum.k === 'ax'"}],"mark":{"type":"text","align":"center","baseline":"middle","fontSize":22},"encoding":{"text":{"field":"t","type":"nominal"}}},
   {"transform":[{"filter":"datum.k === 'av'"}],"mark":{"type":"text","align":"center","baseline":"middle","fontSize":22,"angle":270},"encoding":{"text":{"field":"t","type":"nominal"}}},
   {"transform":[{"filter":"datum.k === 'hr'"}],"mark":{"type":"point","shape":"M1,0L-1,-0.5L-1,0.5Z","filled":true,"fill":"#000","opacity":1,"size":200,"strokeWidth":0}},
   {"transform":[{"filter":"datum.k === 'hu'"}],"mark":{"type":"point","shape":"M0,-1L-0.5,1L0.5,1Z","filled":true,"fill":"#000","opacity":1,"size":200,"strokeWidth":0}}
  ]
 }
},
{
 "hconcat":[
  {"width":1,"height":1,"view":{"stroke":null},"data":{"values":[{}]},"mark":{"type":"text"},"encoding":{"text":{"value":""}}},
  {
   "width":523,"height":267,
   "view":{"stroke":null},
   "data":{"name":"b"},
   "encoding":{
    "x":{"field":"x","type":"quantitative","scale":{"domain":[0.333,4.692],"nice":false,"zero":false},
     "axis":{"title":null,"values":[1,2,3,4],"labelExpr":"datum.value===1?'SPF':datum.value===2?'RF':datum.value===3?'P0':datum.value===4?'P0+Vanco':''","ticks":false,"tickSize":0,"labelPadding":14,"labelFontSize":22,"labelColor":"#000","domainWidth":1.5,"domainColor":"#000","labelOverlap":false,"labelFlush":false}},
    "y":{"field":"y","type":"quantitative","scale":{"domain":[0,10],"nice":false,"zero":false},
     "axis":{"title":"MZ B %","values":[0,2.5,5,7.5,10],"format":".1f","tickSize":6,"tickWidth":1.5,"labelPadding":2,"labelFontSize":22,"labelColor":"#000","domainWidth":1.5,"domainColor":"#000","titleFontSize":22,"titleFontWeight":"bold","titlePadding":10,"titleColor":"#000","labelFlush":false}}
   },
   "layer":[
    {"transform":[{"filter":"datum.k === 'br'"}],"mark":{"type":"line","stroke":"#666","strokeWidth":1.5},"encoding":{"detail":{"field":"g","type":"nominal"},"order":{"value":null}}},
    {"transform":[{"filter":"datum.k === 'mn'"}],"mark":{"type":"rule","stroke":"#000","strokeWidth":1.5},"encoding":{"x2":{"field":"x2"}}},
    {"transform":[{"filter":"datum.k === 'pt'"}],"mark":{"type":"point","filled":true,"opacity":1,"stroke":"#000","strokeWidth":1.5},
     "encoding":{
      "shape":{"field":"grp","type":"nominal","scale":{"domain":["SPF","RF","P0","V"],"range":["square","circle","diamond","triangle-down"]},"legend":null},
      "fill":{"field":"grp","type":"nominal","scale":{"domain":["SPF","RF","P0","V"],"range":["#000","#fff","#000","#000"]},"legend":null},
      "size":{"field":"grp","type":"nominal","scale":{"domain":["SPF","RF","P0","V"],"range":[215,185,220,190]},"legend":null}
     }},
    {"transform":[{"filter":"datum.k === 'p'"}],"mark":{"type":"text","align":"center","baseline":"alphabetic","fontSize":20,"fontWeight":"bold"},"encoding":{"text":{"field":"t","type":"nominal"}}},
    {"transform":[{"filter":"datum.k === 'tx'"}],"mark":{"type":"text","align":"center","baseline":"alphabetic","fontSize":22},"encoding":{"text":{"field":"t","type":"nominal"}}},
    {"transform":[{"filter":"datum.k === 'ts'"}],"mark":{"type":"text","align":"left","baseline":"alphabetic","fontSize":11},"encoding":{"text":{"field":"t","type":"nominal"}}},
    {"transform":[{"filter":"datum.k === 'B'"}],"mark":{"type":"text","align":"left","baseline":"alphabetic","fontSize":26,"fontWeight":"bold"},"encoding":{"text":{"field":"t","type":"nominal"}}}
   ]
  }
 ],
 "spacing":42,
 "bounds":"flush"
}
]
}
